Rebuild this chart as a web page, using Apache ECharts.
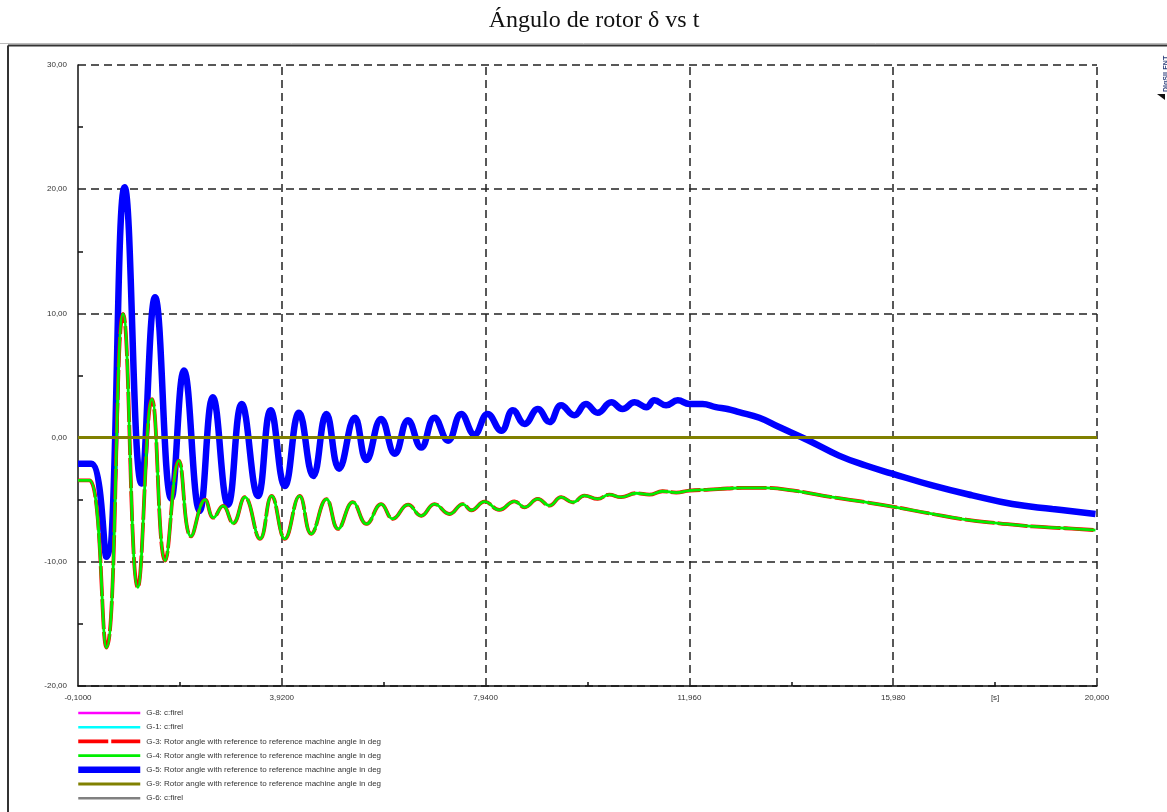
<!DOCTYPE html>
<html>
<head>
<meta charset="utf-8">
<title>Ángulo de rotor δ vs t</title>
<script src="https://cdn.jsdelivr.net/npm/echarts@6/dist/echarts.min.js"></script>
<style>
  html, body { margin: 0; padding: 0; background: #fff; }
  #chart { width: 1167px; height: 812px; }
</style>
</head>
<body>
<div id="chart"></div>
<script>
// Series names (legend order)
const seriesNames = [
    'G-8: c:firel',
    'G-1: c:firel',
    'G-3: Rotor angle with reference to reference machine angle in deg',
    'G-4: Rotor angle with reference to reference machine angle in deg',
    'G-5: Rotor angle with reference to reference machine angle in deg',
    'G-9: Rotor angle with reference to reference machine angle in deg',
    'G-6: c:firel'
];

// Axis ticks / labels
const xTickVals = [-0.1, 3.92, 7.94, 11.96, 15.98, 17.99, 20];
const xTickLabels = ['-0,1000', '3,9200', '7,9400', '11,960', '15,980', '[s]', '20,000'];
const xGridVals = [3.92, 7.94, 11.96, 15.98, 20];
const xMinorTicks = [1.91, 5.93, 9.95, 13.97, 17.99];
const yTickVals = [-20, -10, 0, 10, 20, 30];
const yTickLabels = ['-20,00', '-10,00', '0,00', '10,00', '20,00', '30,00'];

// G-5 rotor angle (blue)
const g5Time = [-0.1, 0.16, 0.46, 0.82, 1.15, 1.42, 1.74, 1.99, 2.30, 2.56, 2.86, 3.13, 3.45, 3.70,
    3.98, 4.26, 4.54, 4.80, 5.05, 5.36, 5.59, 5.88, 6.15, 6.41, 6.67, 6.93, 7.20, 7.46, 7.72,
    7.98, 8.25, 8.48, 8.71, 8.97, 9.20, 9.43, 9.69, 9.92, 10.15, 10.42, 10.64, 10.88, 11.11,
    11.27, 11.50, 11.73, 11.96, 12.22, 12.48, 12.71, 12.94, 13.34, 13.73, 14.32, 14.91, 15.44,
    15.96, 16.75, 17.54, 18.33, 19.12, 19.97];
const g5Angle = [-2.1, -2.1, -9.6, 20.15, -3.7, 11.3, -4.9, 5.4, -5.9, 3.25, -5.4, 2.7, -4.7, 2.2,
    -3.9, 2.0, -3.1, 1.9, -2.5, 1.6, -1.8, 1.5, -1.3, 1.4, -0.8, 1.6, -0.25, 1.9, 0.25,
    1.9, 0.55, 2.2, 1.1, 2.3, 1.25, 2.6, 1.8, 2.7, 2.0, 2.85, 2.3, 2.85, 2.45,
    3.0, 2.6, 3.0, 2.7, 2.7, 2.45, 2.3, 2.05, 1.6, 0.85, -0.25, -1.45, -2.25,
    -2.9, -3.85, -4.65, -5.35, -5.75, -6.15];

// G-3 / G-4 rotor angle (red under green, same trace)
const g4Time = [-0.1, 0.13, 0.46, 0.79, 1.08, 1.36, 1.62, 1.89, 2.13, 2.41, 2.57, 2.76, 2.96, 3.19,
    3.49, 3.72, 3.98, 4.27, 4.50, 4.80, 5.03, 5.32, 5.59, 5.88, 6.11, 6.41, 6.67, 6.93, 7.23,
    7.49, 7.66, 7.92, 8.21, 8.51, 8.71, 8.97, 9.20, 9.43, 9.66, 9.89, 10.15, 10.38, 10.61,
    10.91, 11.17, 11.43, 11.70, 11.96, 12.35, 12.71, 13.00, 13.47, 13.99, 14.78, 15.44, 15.96,
    16.75, 17.41, 18.07, 18.72, 19.38, 19.97];
const g4Angle = [-3.45, -3.45, -16.9, 9.95, -12.05, 3.1, -9.9, -1.85, -7.95, -5.0, -6.45, -5.5, -6.9, -4.8,
    -8.15, -4.7, -8.15, -4.7, -7.75, -4.95, -7.35, -5.2, -6.95, -5.35, -6.55, -5.4, -6.3, -5.35, -6.15,
    -5.35, -5.85, -5.15, -5.82, -5.13, -5.61, -4.94, -5.48, -4.8, -5.21, -4.67, -4.94, -4.59, -4.8,
    -4.48, -4.59, -4.32, -4.43, -4.27, -4.19, -4.1, -4.05, -4.05, -4.25, -4.8, -5.2, -5.55,
    -6.15, -6.6, -6.9, -7.15, -7.3, -7.45];

// G-9 reference machine (olive)
const g9Time = [-0.1, 20];
const g9Angle = [0, 0];

const zip = (t, v) => t.map((x, i) => [x, v[i]]);

const chart = echarts.init(document.getElementById('chart'));

const labelFont = { fontFamily: 'Liberation Sans', fontSize: 8, color: '#333' };
const gridDash = { color: '#222', width: 1.5, type: [8, 5] };

const option = {
    backgroundColor: '#fff',
    animation: false,
    title: {
        text: 'Ángulo de rotor δ vs t',
        left: 589,
        textAlign: 'center',
        top: 4,
        textStyle: {
            fontFamily: 'Liberation Serif',
            fontSize: 24,
            fontWeight: 'normal',
            color: '#111'
        }
    },
    legend: {
        data: seriesNames,
        orient: 'vertical',
        left: 75,
        top: 709,
        itemWidth: 62,
        itemHeight: 8,
        itemGap: 6.2,
        padding: 0,
        selectedMode: false,
        itemStyle: { opacity: 0, borderWidth: 0 },
        lineStyle: { width: 'inherit' },
        textStyle: { fontFamily: 'Liberation Sans', fontSize: 8, color: '#333', padding: [0, 0, 0, 1] }
    },
    grid: { left: 78, right: 70, top: 65, bottom: 126, containLabel: false },
    xAxis: {
        type: 'value',
        min: -0.1,
        max: 20,
        splitLine: { show: false },
        axisLine: { show: true, onZero: false, lineStyle: { color: '#111', width: 1.5 } },
        axisTick: {
            show: true, inside: true, length: 4,
            customValues: xMinorTicks,
            lineStyle: { color: '#111', width: 1.5 }
        },
        axisLabel: {
            ...labelFont,
            margin: 8,
            customValues: xTickVals,
            formatter: v => {
                const i = xTickVals.findIndex(x => Math.abs(x - v) < 1e-6);
                return i >= 0 ? xTickLabels[i] : '';
            }
        }
    },
    yAxis: {
        type: 'value',
        min: -20,
        max: 30,
        interval: 10,
        splitLine: { show: true, lineStyle: gridDash },
        axisLine: { show: true, onZero: false, lineStyle: { color: '#111', width: 1.5 } },
        axisTick: { show: false, inside: true },
        minorTick: { show: true, splitNumber: 2, length: 5, lineStyle: { color: '#111', width: 1.5 } },
        axisLabel: {
            ...labelFont,
            margin: 11,
            formatter: v => {
                const i = yTickVals.indexOf(v);
                return i >= 0 ? yTickLabels[i] : '';
            }
        }
    },
    graphic: [
        { type: 'line', shape: { x1: 0, y1: 43.5, x2: 1167, y2: 43.5 }, style: { stroke: '#bbb', lineWidth: 1 }, silent: true },
        { type: 'line', shape: { x1: 8, y1: 45.5, x2: 1167, y2: 45.5 }, style: { stroke: '#333', lineWidth: 2 }, silent: true },
        { type: 'line', shape: { x1: 8, y1: 45.5, x2: 8, y2: 812 }, style: { stroke: '#333', lineWidth: 2 }, silent: true },
        {
            type: 'text', x: 1163, y: 92, rotation: Math.PI / 2,
            style: { text: 'DIgSILENT', fontFamily: 'Liberation Sans', fontSize: 7, fontWeight: 'bold', fill: '#2a3d7a' },
            silent: true
        },
        { type: 'polygon', shape: { points: [[1157, 94], [1165, 94], [1165, 100]] }, style: { fill: '#111' }, silent: true }
    ],
    series: [
        { name: seriesNames[0], type: 'line', data: [], symbol: 'none', lineStyle: { color: '#ff00ff', width: 2.5 }, itemStyle: { color: '#ff00ff' } },
        { name: seriesNames[1], type: 'line', data: [], symbol: 'none', lineStyle: { color: '#00ffff', width: 2.5 }, itemStyle: { color: '#00ffff' } },
        {
            name: seriesNames[2], type: 'line', z: 4, data: zip(g4Time, g4Angle), symbol: 'none',
            smooth: 0.45,
            lineStyle: { color: '#ff0000', width: 3.8, type: [30, 3] }, itemStyle: { color: '#ff0000' }
        },
        {
            name: seriesNames[3], type: 'line', z: 5, data: zip(g4Time, g4Angle), symbol: 'none',
            smooth: 0.45,
            lineStyle: { color: '#00ee00', width: 2.8 }, itemStyle: { color: '#00ee00' }
        },
        {
            name: seriesNames[4], type: 'line', z: 3, data: zip(g5Time, g5Angle), symbol: 'none',
            smooth: 0.45,
            lineStyle: { color: '#0000ff', width: 6.5 }, itemStyle: { color: '#0000ff' },
            markLine: {
                silent: true, z: 1, symbol: 'none', animation: false,
                label: { show: false },
                lineStyle: gridDash,
                data: xGridVals.map(v => ({ xAxis: v }))
            }
        },
        {
            name: seriesNames[5], type: 'line', z: 6, data: zip(g9Time, g9Angle), symbol: 'none',
            lineStyle: { color: '#808000', width: 3 }, itemStyle: { color: '#808000' }
        },
        { name: seriesNames[6], type: 'line', data: [], symbol: 'none', lineStyle: { color: '#808080', width: 2.5 }, itemStyle: { color: '#808080' } }
    ]
};

chart.setOption(option);
window.addEventListener('resize', () => chart.resize());
</script>
</body>
</html>
